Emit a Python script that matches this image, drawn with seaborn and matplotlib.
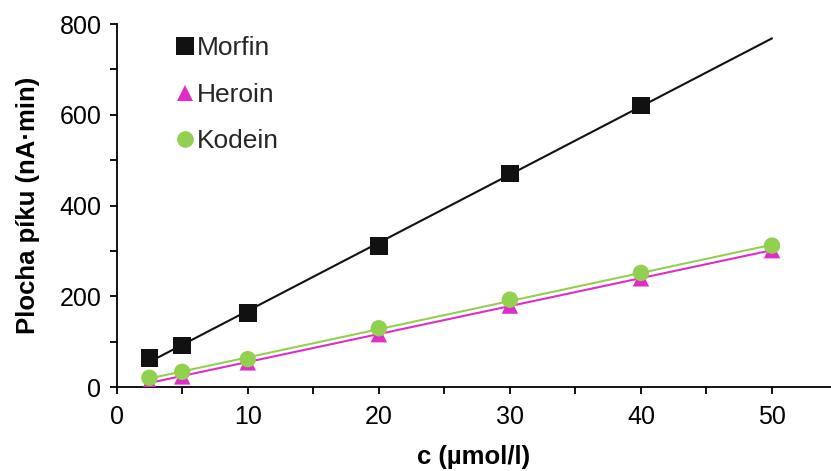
import numpy as np
import pandas as pd
import matplotlib
matplotlib.use("Agg")
import matplotlib.pyplot as plt
import seaborn as sns
from matplotlib.ticker import MultipleLocator
from matplotlib.lines import Line2D

sns.set_theme(style="ticks")
plt.rcParams['font.family'] = ['Liberation Sans', 'DejaVu Sans']

# Data
conc_morfin = [2.5, 5, 10, 20, 30, 40]
morfin = [64, 92, 164, 311, 471, 621]
conc_heroin = [2.5, 5, 10, 20, 30, 40, 50]
heroin = [11, 24, 55, 117, 180, 240, 302]
conc_kodein = [2.5, 5, 10, 20, 30, 40, 50]
kodein = [21, 34, 62, 130, 193, 252, 312]

series = ["Morfin", "Heroin", "Kodein"]
colors = {"Morfin": "#111111", "Heroin": "#E02CC8", "Kodein": "#92D050"}
markers = {"Morfin": "s", "Heroin": "^", "Kodein": "o"}
sizes = {"Morfin": 160, "Heroin": 140, "Kodein": 140}
fit_range = [2.5, 50]

df = pd.concat([
    pd.DataFrame({"c": conc_morfin, "A": morfin, "latka": "Morfin"}),
    pd.DataFrame({"c": conc_heroin, "A": heroin, "latka": "Heroin"}),
    pd.DataFrame({"c": conc_kodein, "A": kodein, "latka": "Kodein"}),
], ignore_index=True)

fig = plt.figure(figsize=(8.31, 4.71), dpi=100)
ax = fig.add_axes([0.1404, 0.1777, 0.8596, 0.7713])

# trend lines (linear fits)
for s in ["Morfin", "Kodein", "Heroin"]:
    d = df[df.latka == s]
    k, q = np.polyfit(d.c, d.A, 1)
    xs = np.array(fit_range)
    sns.lineplot(x=xs, y=k * xs + q, color=colors[s], lw=1.5, ax=ax, zorder=2)

for s in ["Heroin", "Kodein", "Morfin"]:
    d = df[df.latka == s]
    sns.scatterplot(data=d, x="c", y="A", marker=markers[s], s=sizes[s],
                    color=colors[s], edgecolor="none", ax=ax, zorder=3)

ax.set_xlim(0, 54.5)
ax.set_ylim(0, 800)
ax.xaxis.set_major_locator(MultipleLocator(10))
ax.xaxis.set_minor_locator(MultipleLocator(5))
ax.yaxis.set_major_locator(MultipleLocator(200))
ax.yaxis.set_minor_locator(MultipleLocator(100))
ax.tick_params(which="both", direction="out", length=5, width=1.3, color="black",
               labelsize=18, labelcolor="black")
ax.tick_params(axis="x", pad=8)
ax.tick_params(axis="y", pad=6)
for sp in ["top", "right"]:
    ax.spines[sp].set_visible(False)
for sp in ["left", "bottom"]:
    ax.spines[sp].set_color("black")
    ax.spines[sp].set_linewidth(1.3)

ax.set_xlabel("c (µmol/l)", fontsize=18.5, fontweight="bold", color="black", labelpad=11)
ax.set_ylabel("Plocha píku (nA·min)", fontsize=18.5, fontweight="bold", color="black", labelpad=14)

handles = [Line2D([], [], ls="none", marker=markers[s], color=colors[s],
                  markersize=13 if s == "Morfin" else 12, markeredgewidth=0)
           for s in series]
leg = ax.legend(handles, series, loc="upper left", bbox_to_anchor=(0.068, 0.995),
                frameon=False, fontsize=19, handlelength=0.7, handletextpad=0.1,
                labelspacing=0.85, borderaxespad=0)

fig.savefig("out.png", dpi=100)
